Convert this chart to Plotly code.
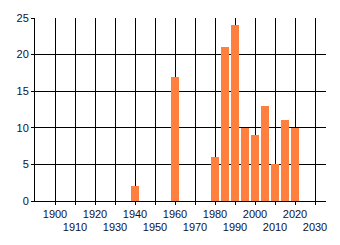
import plotly.graph_objects as go

years = [1940, 1960, 1980, 1985, 1990, 1995, 2000, 2005, 2010, 2015, 2020]
counts = [2, 17, 6, 21, 24, 10, 9, 13, 5, 11, 10]
row1_ticks = [1900, 1920, 1940, 1960, 1980, 2000, 2020]
row2_ticks = [1910, 1930, 1950, 1970, 1990, 2010, 2030]
y_ticks = [0, 5, 10, 15, 20, 25]

font = dict(family="Liberation Sans, Arial, sans-serif", size=11, color="#101030")
xr = [1890, 2035.5]

fig = go.Figure()
fig.add_trace(go.Bar(x=years, y=counts, width=4, marker=dict(color="#FF7F3F", line=dict(width=0))))
# invisible trace to activate the secondary x axis
fig.add_trace(go.Scatter(x=[1950], y=[0], xaxis="x2", mode="markers",
                         marker=dict(opacity=0), hoverinfo="skip", showlegend=False))

fig.update_layout(
    width=340, height=245,
    margin=dict(l=35, r=14, t=15, b=44),
    paper_bgcolor="white", plot_bgcolor="white",
    showlegend=False,
    font=font,
    xaxis=dict(range=xr, tickvals=row1_ticks + row2_ticks,
               ticktext=[str(v) for v in row1_ticks] + [""] * len(row2_ticks),
               showgrid=True, gridcolor="black", gridwidth=1,
               ticks="outside", ticklen=3, tickcolor="black",
               showline=True, linecolor="black", linewidth=1,
               zeroline=False, tickfont=font, ticklabelstandoff=0),
    xaxis2=dict(range=xr, overlaying="x", side="bottom", anchor="y",
                tickvals=row2_ticks, ticktext=[str(v) for v in row2_ticks],
                showgrid=False, ticks="", showline=False, zeroline=False,
                tickfont=font, ticklabelstandoff=18),
    yaxis=dict(range=[0, 25], tickvals=y_ticks,
               showgrid=True, gridcolor="black", gridwidth=1,
               ticks="outside", ticklen=3, tickcolor="black",
               showline=True, linecolor="black", linewidth=1,
               zeroline=False, tickfont=font, ticklabelstandoff=0),
    bargap=0,
)

fig.write_html("out.html")
